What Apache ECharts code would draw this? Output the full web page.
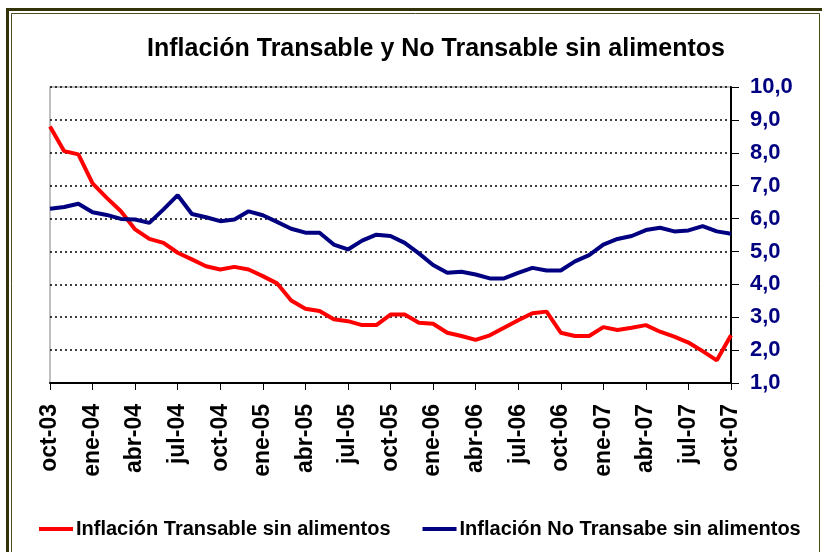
<!DOCTYPE html>
<html>
<head>
<meta charset="utf-8">
<script src="https://cdn.jsdelivr.net/npm/echarts@6/dist/echarts.min.js"></script>
<style>
    html, body, #main {
        width: 822px;
        height: 552px;
        margin: 0;
        background: #fff;
    }
</style>
</head>
<body>
<div id="main"></div>
<script>
    // meses oct-03 .. oct-07
    var mesesNombres = ['ene', 'feb', 'mar', 'abr', 'may', 'jun', 'jul', 'ago', 'sep', 'oct', 'nov', 'dic'];
    var categorias = [];
    for (var i = 0; i < 49; i++) {
        var m = (9 + i) % 12;
        var a = 3 + Math.floor((9 + i) / 12);
        categorias.push(mesesNombres[m] + '-' + (a < 10 ? '0' + a : a));
    }

    var transable = [
        8.80, 8.05, 7.95, 7.07, 6.63, 6.22, 5.67, 5.38, 5.26, 4.96, 4.76, 4.55,
        4.45, 4.53, 4.45, 4.25, 4.03, 3.51, 3.26, 3.19, 2.94, 2.88, 2.76, 2.76,
        3.08, 3.08, 2.83, 2.80, 2.53, 2.43, 2.31, 2.45, 2.68, 2.91, 3.12, 3.17,
        2.53, 2.43, 2.43, 2.70, 2.61, 2.68, 2.76, 2.56, 2.41, 2.23, 1.97, 1.69,
        2.45
    ];
    var noTransable = [
        6.30, 6.35, 6.45, 6.19, 6.11, 5.99, 5.97, 5.87, 6.28, 6.71, 6.14, 6.04,
        5.92, 5.97, 6.22, 6.10, 5.90, 5.69, 5.57, 5.57, 5.21, 5.06, 5.33, 5.51,
        5.47, 5.26, 4.94, 4.59, 4.35, 4.38, 4.30, 4.18, 4.18, 4.35, 4.50, 4.42,
        4.42, 4.70, 4.89, 5.21, 5.38, 5.47, 5.65, 5.72, 5.61, 5.64, 5.77, 5.61,
        5.54
    ];

    var chart = echarts.init(document.getElementById('main'));
    var fuente = 'Liberation Sans, Arial, sans-serif';

    chart.setOption({
        backgroundColor: '#fff',
        animation: false,
        title: {
            text: 'Inflación Transable y No Transable sin alimentos',
            left: 431,
            top: 32,
            textAlign: 'center',
            textStyle: {fontFamily: fuente, fontSize: 25, fontWeight: 'bold', color: '#000'}
        },
        graphic: [
            {type: 'rect', shape: {x: 7.5, y: 9.5, width: 830, height: 560},
                style: {fill: null, stroke: '#33330a', lineWidth: 3}},
            {type: 'rect', shape: {x: 11.5, y: 13.5, width: 808, height: 560},
                style: {fill: null, stroke: '#4a4a20', lineWidth: 1}}
        ],
        legend: {
            left: 34,
            top: 514,
            itemWidth: 34,
            itemHeight: 4,
            itemGap: 32,
            icon: 'rect',
            textStyle: {fontFamily: fuente, fontSize: 20, fontWeight: 'bold', color: '#000', padding: [0, 0, 0, -2]},
            data: ['Inflación Transable sin alimentos', 'Inflación No Transabe sin alimentos']
        },
        grid: {
            left: 50,
            right: 91,
            top: 87,
            bottom: 169,
            show: true,
            borderColor: '#808080',
            borderWidth: 1
        },
        xAxis: {
            type: 'category',
            data: categorias,
            boundaryGap: false,
            axisLine: {lineStyle: {color: '#000', width: 2}},
            axisTick: {interval: 2, length: 7, lineStyle: {color: '#000', width: 1}},
            axisLabel: {
                interval: 2,
                rotate: 90,
                margin: 21,
                fontFamily: fuente,
                fontSize: 23,
                fontWeight: 'bold',
                color: '#000'
            },
            splitLine: {show: false}
        },
        yAxis: {
            type: 'value',
            position: 'right',
            min: 1,
            max: 10,
            interval: 1,
            axisLine: {show: true, lineStyle: {color: '#000', width: 2}},
            axisTick: {show: true, length: 8, lineStyle: {color: '#000', width: 1}},
            axisLabel: {
                margin: 19,
                fontFamily: fuente,
                fontSize: 22,
                fontWeight: 'bold',
                color: '#000080',
                formatter: function (v) {
                    return v.toFixed(1).replace('.', ',');
                }
            },
            splitLine: {show: true, lineStyle: {color: '#000', width: 1.5, type: [2, 3]}}
        },
        series: [
            {
                name: 'Inflación Transable sin alimentos',
                type: 'line',
                data: transable,
                symbol: 'none',
                lineStyle: {color: '#ff0000', width: 4},
                itemStyle: {color: '#ff0000'}
            },
            {
                name: 'Inflación No Transabe sin alimentos',
                type: 'line',
                data: noTransable,
                symbol: 'none',
                lineStyle: {color: '#000080', width: 4},
                itemStyle: {color: '#000080'}
            }
        ]
    });
</script>
</body>
</html>
